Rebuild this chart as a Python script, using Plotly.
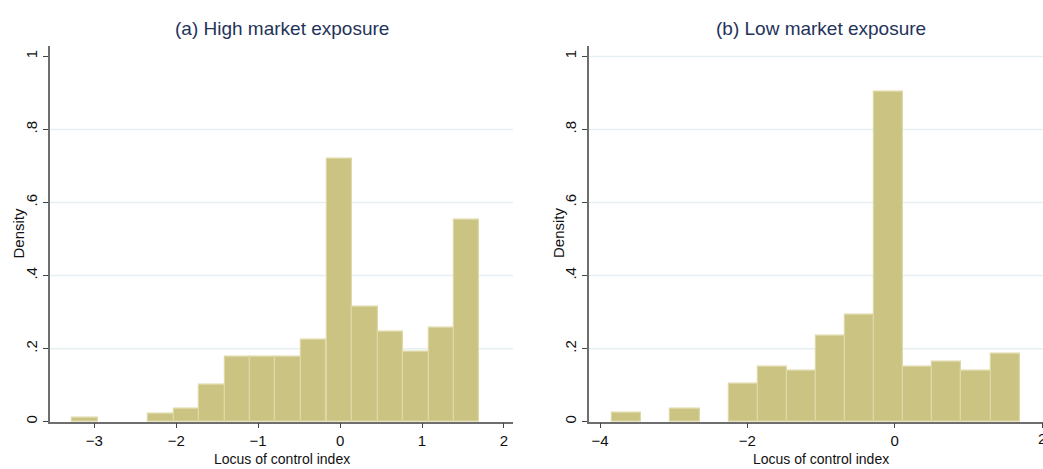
import plotly.graph_objects as go

# Histogram of the locus of control index, density scale, by market exposure
high_bin_left = [-3.27, -2.96, -2.65, -2.34, -2.03, -1.72, -1.41, -1.10,
                 -0.79, -0.48, -0.16, 0.15, 0.46, 0.77, 1.08, 1.39]
high_bin_width = 0.31
high_density = [0.012, 0.0, 0.0, 0.022, 0.034, 0.100, 0.179, 0.179,
                0.179, 0.224, 0.720, 0.314, 0.245, 0.191, 0.256, 0.552]

low_bin_left = [-3.835, -3.44, -3.045, -2.65, -2.255, -1.86, -1.465,
                -1.07, -0.675, -0.28, 0.115, 0.51, 0.905, 1.30]
low_bin_width = 0.395
low_density = [0.023, 0.0, 0.034, 0.0, 0.104, 0.150, 0.140,
               0.234, 0.293, 0.903, 0.150, 0.164, 0.140, 0.186]

panel_titles = ["(a) High market exposure", "(b) Low market exposure"]
x_title = "Locus of control index"
y_title = "Density"
y_ticks = [0, 0.2, 0.4, 0.6, 0.8, 1]
y_tick_text = ["0", ".2", ".4", ".6", ".8", "1"]
high_x_ticks = [-3, -2, -1, 0, 1, 2]
low_x_ticks = [-4, -2, 0, 2]

W, H = 1043, 469
FONT = "Liberation Sans Narrow, Arial Narrow, Liberation Sans, Arial, sans-serif"
BAR_FILL = "#CBC382"
BAR_EDGE = "#DDD8A5"
GRID = "#E6EFF1"
AXIS = "#6E6E6E"
TITLE_COLOR = "#24335A"


def px_x(p):
    return p / W


def px_y(p):
    return 1 - p / H


def nonempty(lefts, dens):
    # empty bins draw nothing, so leave them out of the bar trace
    pairs = [(l, d) for l, d in zip(lefts, dens) if d > 0]
    return [p[0] for p in pairs], [p[1] for p in pairs]


fig = go.Figure()

hx, hy = nonempty(high_bin_left, high_density)
lx, ly = nonempty(low_bin_left, low_density)

fig.add_trace(go.Bar(
    x=hx, y=hy, width=high_bin_width, offset=0,
    marker=dict(color=BAR_FILL, line=dict(color=BAR_EDGE, width=1.2)),
    xaxis="x", yaxis="y", showlegend=False, hoverinfo="skip",
))
fig.add_trace(go.Bar(
    x=lx, y=ly, width=low_bin_width, offset=0,
    marker=dict(color=BAR_FILL, line=dict(color=BAR_EDGE, width=1.2)),
    xaxis="x2", yaxis="y2", showlegend=False, hoverinfo="skip",
))

y_dom = [px_y(423.5), px_y(46)]
TICK_FONT = dict(family=FONT, size=15, color="#111111")
axis_common = dict(
    showline=True, linecolor=AXIS, linewidth=1.5,
    ticks="outside", ticklen=5, tickwidth=1, tickcolor="#444444",
    tickfont=TICK_FONT, zeroline=False,
)

fig.update_layout(
    width=W, height=H,
    margin=dict(l=0, r=0, t=0, b=0),
    paper_bgcolor="white", plot_bgcolor="white",
    bargap=0,
    xaxis=dict(domain=[px_x(50), px_x(513)], range=[-3.54, 2.11],
               tickvals=high_x_ticks, showgrid=False, anchor="y", **axis_common),
    yaxis=dict(domain=y_dom, range=[0, 1.029], tickvals=y_ticks,
               ticktext=y_tick_text, tickangle=-90, showgrid=False,
               anchor="x", **axis_common),
    xaxis2=dict(domain=[px_x(589), 1.0], range=[-4.15, 2.012],
                tickvals=low_x_ticks, showgrid=False, anchor="y2", **axis_common),
    yaxis2=dict(domain=y_dom, range=[0, 1.029], tickvals=y_ticks,
                ticktext=y_tick_text, tickangle=-90, showgrid=False,
                anchor="x2", **axis_common),
)

# light horizontal grid lines behind the bars
shapes = []
for axes, grid_vals in (("", [0.2, 0.4, 0.6, 0.8]), ("2", [0.2, 0.4, 0.6, 0.8, 1.0])):
    for g in grid_vals:
        shapes.append(dict(type="line", xref=f"x{axes} domain", yref=f"y{axes}",
                           x0=0, x1=1, y0=g, y1=g, layer="below",
                           line=dict(color=GRID, width=1.5)))
fig.update_layout(shapes=shapes)

annotations = []
for title, cx in zip(panel_titles, (281.5, 821)):
    annotations.append(dict(text=title, x=px_x(cx), y=px_y(29), xref="paper", yref="paper",
                            showarrow=False, xanchor="center", yanchor="middle",
                            font=dict(family=FONT, size=19, color=TITLE_COLOR)))
for cx in (281.5, 820.5):
    annotations.append(dict(text=x_title, x=px_x(cx), y=px_y(461), xref="paper", yref="paper",
                            showarrow=False, xanchor="center", yanchor="middle",
                            font=dict(family=FONT, size=14, color="#111111")))
for cx in (18.5, 558):
    annotations.append(dict(text=y_title, x=px_x(cx), y=px_y(234), xref="paper", yref="paper",
                            showarrow=False, xanchor="center", yanchor="middle", textangle=-90,
                            font=dict(family=FONT, size=15, color="#111111")))
# last tick label of the right panel sits on the page edge; plotly hides it, so write it here
last_tick = low_x_ticks[-1]
annotations.append(dict(text=str(last_tick), x=last_tick, y=px_y(440), xref="x2", yref="paper",
                        showarrow=False, xanchor="center", yanchor="middle", font=TICK_FONT))
fig.update_layout(annotations=annotations)

fig.write_html("out.html")
